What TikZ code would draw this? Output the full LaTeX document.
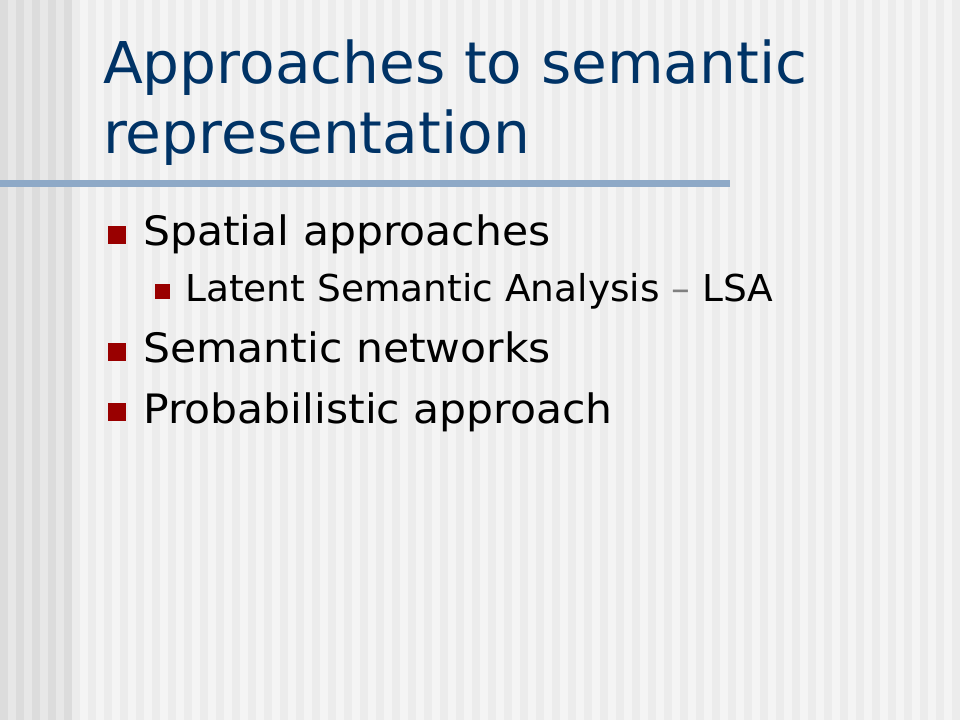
\documentclass[tikz,border=0pt]{standalone}
\usepackage{fontspec}
\setmainfont{DejaVu Sans}
\newfontfamily\titlefont[FakeStretch=1.01]{DejaVu Sans}
\newfontfamily\itemfont[FakeStretch=1.05]{DejaVu Sans}
\newfontfamily\subitemfont[FakeStretch=1.014]{DejaVu Sans}
\definecolor{titleblue}{HTML}{003366}
\definecolor{bulletred}{HTML}{990000}
\definecolor{rulegray}{HTML}{8EA9C7}
\definecolor{stripedark}{HTML}{DCDCDC}
\definecolor{stripemid}{HTML}{E7E7E7}
\definecolor{stripelight}{HTML}{F4F4F4}
\definecolor{stripepale}{HTML}{ECECEC}

\begin{document}
\begin{tikzpicture}[x=1pt,y=-1pt,
    title/.style={anchor=base west,inner sep=0pt,text=titleblue,font=\titlefont\fontsize{57.6}{70}\selectfont},
    item/.style={anchor=base west,inner sep=0pt,font=\itemfont\fontsize{40.5}{48}\selectfont},
    subitem/.style={anchor=base west,inner sep=0pt,font=\subitemfont\fontsize{37}{44}\selectfont},
    bigbullet/.style={fill=bulletred,minimum size=18pt,inner sep=0pt},
    smallbullet/.style={fill=bulletred,minimum size=15pt,inner sep=0pt}]
    \useasboundingbox (0,0) rectangle (960,720);
    % striped background
    \fill[stripelight] (0,0) rectangle (960,720);
    \foreach \x in {8,24,...,952}{
        \fill[stripepale] (\x,0) rectangle (\x+8,720);
    }
    \foreach \x in {0,16,...,64}{
        \fill[stripedark] (\x,0) rectangle (\x+8,720);
    }
    \foreach \x in {8,24,...,56}{
        \fill[stripemid] (\x,0) rectangle (\x+8,720);
    }
    % title
    \node[title] (t1) at (103,83) {Approaches to semantic};
    \node[title] (t2) at (103,153) {representation};
    \fill[rulegray] (0,180) rectangle (730,187);
    % bullets
    \node[bigbullet] (b1) at (117,235) {};
    \node[item] (spatial) at (143,245) {Spatial approaches};
    \node[smallbullet] (b2) at (162.5,291) {};
    \node[subitem] (lsa) at (185,301) {Latent Semantic Analysis {\color{gray}\textendash} LSA};
    \node[bigbullet] (b3) at (117,351.5) {};
    \node[item] (networks) at (143,362) {Semantic networks};
    \node[bigbullet] (b4) at (117,412) {};
    \node[item] (prob) at (143,423) {Probabilistic approach};
\end{tikzpicture}
\end{document}
